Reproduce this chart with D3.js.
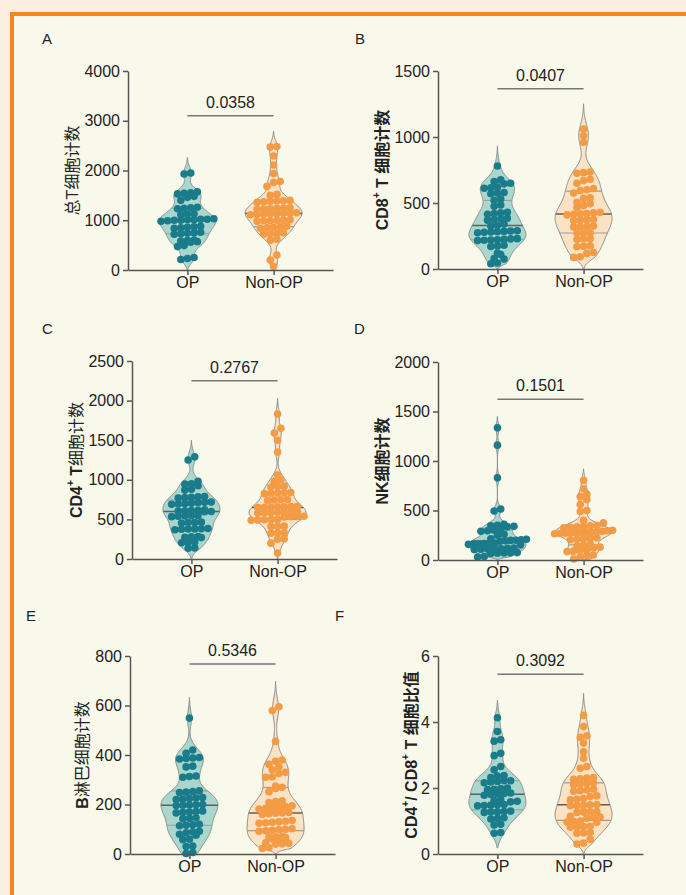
<!DOCTYPE html>
<html><head><meta charset="utf-8">
<script src="https://cdn.jsdelivr.net/npm/d3@7"></script>
<style>body{margin:0;background:#fdeee2;} svg{display:block}</style>
</head><body>
<svg id="chart" width="686" height="895"></svg>
<script>
// ---------- DATA ----------
const groups = ["OP", "Non-OP"];

const totalT_OP = [1950,1930,1570,1550,1540,1530,1480,1460,1400,1260,1250,1240,1230,1130,1120,1110,1030,1020,1020,1010,1010,1000,1000,990,980,880,870,860,850,840,760,750,740,730,720,600,590,580,570,560,490,470,250,230,210];
const totalT_Non = [2480,2470,2290,2110,1940,1780,1760,1680,1520,1500,1400,1390,1390,1380,1370,1360,1250,1240,1240,1230,1230,1220,1150,1140,1140,1130,1130,1120,1120,1110,1010,1000,1000,990,990,980,880,870,860,850,840,750,740,730,720,620,600,300,200,70];

const cd8_OP = [780,675,663,650,645,620,615,612,580,575,570,530,520,485,475,430,425,420,415,385,380,375,370,340,330,325,290,288,285,283,280,278,275,230,228,225,222,220,218,215,180,175,170,120,110,80,75,45,40];
const cd8_Non = [1060,1010,960,735,730,725,680,670,650,610,600,595,575,540,535,505,495,465,480,430,425,420,418,415,410,375,372,370,368,325,322,320,318,275,272,270,230,228,225,175,172,168,125,118,92,88];

const cd4_OP = [1290,1250,980,950,945,925,880,870,790,785,780,775,770,720,715,710,705,700,695,690,620,615,612,610,605,600,598,550,548,545,540,535,465,462,460,455,385,382,380,378,375,370,285,280,275,270,215,210,205,140,135];
const cd4_Non = [1830,1650,1590,1500,1350,1060,1000,980,920,915,910,840,835,832,830,825,750,748,745,740,665,663,660,658,655,652,650,600,595,592,590,588,585,580,540,538,535,530,500,498,495,492,490,415,412,410,330,328,325,255,250,200,75];

const nk_OP = [1335,1160,830,515,495,360,350,345,340,335,310,300,295,290,260,250,215,210,205,200,198,195,190,170,168,165,162,160,158,155,120,118,115,112,110,108,105,75,72,70,68,65,35,30];
const nk_Non = [805,720,665,640,610,560,500,490,400,375,350,345,340,335,330,325,300,295,290,285,282,280,278,275,272,270,268,265,225,220,215,210,205,160,150,140,130,125,100,95,90,85,50,45,30,10];

const b_OP = [549,420,407,390,388,386,384,355,352,315,313,310,255,252,250,248,228,226,224,222,220,200,199,198,197,196,174,172,170,168,166,146,144,142,120,118,116,114,92,90,86,80,76,60,58,32,30,6,2];
const b_Non = [595,580,455,380,375,362,352,340,330,325,312,310,275,270,265,252,215,212,208,195,192,190,188,185,182,168,166,165,163,160,135,132,130,128,126,124,102,100,98,96,94,92,72,70,68,66,64,62,45,43,41,40,25,22];

const ratio_OP = [4.13,3.71,3.46,3.42,3.05,2.98,2.65,2.55,2.38,2.36,2.32,2.22,2.2,2.18,2.16,2.22,2.0,1.98,1.96,1.95,1.85,1.83,1.82,1.8,1.78,1.64,1.62,1.6,1.58,1.5,1.49,1.48,1.47,1.46,1.3,1.29,1.28,1.27,1.26,1.1,1.08,1.06,0.9,0.88,0.65,0.63];
const ratio_Non = [4.2,3.86,3.58,3.54,3.36,3.1,2.9,2.65,2.6,2.3,2.28,2.26,2.32,2.16,2.14,2.12,2.1,1.96,1.94,1.92,1.9,1.76,1.74,1.68,1.66,1.64,1.5,1.49,1.48,1.47,1.46,1.3,1.29,1.28,1.27,1.26,1.14,1.12,1.1,1.08,1.0,0.98,0.97,0.96,0.84,0.83,0.82,0.81,0.65,0.64,0.63,0.45,0.33,0.3];

const panelLetters = ["A","B","C","D","E","F"];
const yTicksA = [0,1000,2000,3000,4000];
const yTicksB = [0,500,1000,1500];
const yTicksC = [0,500,1000,1500,2000,2500];
const yTicksD = [0,500,1000,1500,2000];
const yTicksE = [0,200,400,600,800];
const yTicksF = [0,2,4,6];
const pValues = ["0.0358","0.0407","0.2767","0.1501","0.5346","0.3092"];
const bracketLevels = [3100,1365,2250,1625,768,5.45];

// ---------- STYLE / LAYOUT ----------
const C = {
  tealDot:"#1a7b8b", tealFill:"#a9d7ce",
  orDot:"#f39b45", orFill:"#fbe2c3",
  vStroke:"#8c8c8c", axis:"#555", text:"#222"
};
const latin = "'Liberation Sans', Arial, Helvetica, sans-serif";
const cjk = "'Liberation Sans', 'Noto Sans CJK SC', sans-serif";

const panels = [
  {ax:128, y0:270, y1:71,  lx:42,  ly:44,  tx:72,  data:[totalT_OP,totalT_Non], ticks:yTicksA,
   title:[{t:"总T细胞计数"}]},
  {ax:438, y0:269, y1:71,  lx:355, ly:44,  tx:382, data:[cd8_OP,cd8_Non], ticks:yTicksB, bold:true,
   title:[{t:"CD8"},{t:"+",sup:true},{t:" T 细胞计数"}]},
  {ax:132, y0:559, y1:361, lx:42,  ly:334, tx:76,  data:[cd4_OP,cd4_Non], ticks:yTicksC,
   title:[{t:"CD4",b:true},{t:"+",sup:true,b:true},{t:" T",b:true},{t:"细胞计数"}]},
  {ax:438, y0:560, y1:362, lx:354, ly:334, tx:382, data:[nk_OP,nk_Non], ticks:yTicksD, bold:true,
   title:[{t:"NK细胞计数"}]},
  {ax:130, y0:854, y1:656, lx:26,  ly:621, tx:82,  data:[b_OP,b_Non], ticks:yTicksE,
   title:[{t:"B",b:true},{t:"淋巴细胞计数"}]},
  {ax:438, y0:854, y1:656, lx:335, ly:621, tx:411, data:[ratio_OP,ratio_Non], ticks:yTicksF, bold:true,
   title:[{t:"CD4"},{t:"+",sup:true},{t:"/ CD8"},{t:"+",sup:true},{t:" T 细胞比值"}]}
];

const svg = d3.select("#chart");
svg.append("rect").attr("width",686).attr("height",895).attr("fill","#fdeee2");
svg.append("rect").attr("x",12).attr("y",14).attr("width",700).attr("height",900)
  .attr("fill","#f9f9eb").attr("stroke","#f5871f").attr("stroke-width",4);

function kde(vals){
  const s=[...vals].sort(d3.ascending), n=s.length;
  const sd=d3.deviation(s), iqr=d3.quantile(s,.75)-d3.quantile(s,.25);
  const h=0.75*0.9*Math.min(sd, iqr/1.34)*Math.pow(n,-0.2);
  const dens=v=>d3.sum(s,x=>Math.exp(-0.5*((v-x)/h)**2));
  return {s,h,dens,mn:s[0],mx:s[n-1]};
}

// Prism-like row layout: points whose pixel y are close share a row
function rows(vals, y, cx){
  const rowH=5.2, sp=6.6, maxW=58;
  const pts=vals.map(v=>({v,y:y(v)})).sort((a,b)=>b.y-a.y);
  const out=[]; let cur=[];
  const flush=()=>{
    const n=cur.length; if(!n) return;
    const s=Math.min(sp, n>1?maxW/(n-1):sp);
    cur.forEach((p,j)=>out.push({v:p.v,y:p.y,x:cx+(j-(n-1)/2)*s}));
    cur=[];
  };
  pts.forEach(p=>{
    if(cur.length && cur[0].y-p.y>rowH) flush();
    cur.push(p);
  });
  flush();
  return out;
}

panels.forEach((P,pi)=>{
  const g=svg.append("g");
  const y=d3.scaleLinear().domain([0,d3.max(P.ticks)]).range([P.y0,P.y1]);
  const x=d3.scalePoint().domain(groups).range([P.ax,P.ax+205]).padding(0.69);
  const W=28.5;

  g.append("text").attr("x",P.lx).attr("y",P.ly).text(panelLetters[pi])
    .attr("font-family",latin).attr("font-size",15).attr("fill",C.text);

  groups.forEach((grp,gi)=>{
    const vals=P.data[gi];
    const K=kde(vals);
    const lo=K.mn-2.2*K.h, hi=K.mx+2.6*K.h, N=180;
    const grid=d3.range(N+1).map(i=>lo+(hi-lo)*i/N);
    const dv=grid.map(K.dens);
    const md=d3.max(dv);
    const mapV=v=>(v<K.mn && lo<0)? K.mn-(K.mn-v)*(K.mn-0)/(K.mn-lo) : v;
    const shape=grid.map((v,i)=>({v:mapV(v), w:(i===0||i===N)?0:dv[i]/md}));
    const cx=x(grp);
    const area=d3.area().y(d=>y(d.v)).x0(d=>cx-W*d.w).x1(d=>cx+W*d.w).curve(d3.curveBasis);
    g.append("path").attr("d",area(shape))
      .attr("fill",gi===0?C.tealFill:C.orFill).attr("stroke",C.vStroke).attr("stroke-width",1);
    [0.25,0.5,0.75].forEach(q=>{
      const qv=d3.quantile(K.s,q);
      const w=W*K.dens(qv)/md;
      g.append("line").attr("x1",cx-w).attr("x2",cx+w).attr("y1",y(qv)).attr("y2",y(qv))
        .attr("stroke",q===0.5?"#5f5f5f":"#9d9d9d").attr("stroke-width",q===0.5?1.5:1.1);
    });
  });

  groups.forEach((grp,gi)=>{
    const pts=rows(P.data[gi],y,x(grp));
    g.selectAll(null).data(pts).enter().append("circle")
      .attr("cx",d=>d.x).attr("cy",d=>d.y).attr("r",3.8)
      .attr("fill",gi===0?C.tealDot:C.orDot);
  });

  const ya=g.append("g").attr("transform",`translate(${P.ax},0)`)
    .call(d3.axisLeft(y).tickValues(P.ticks).tickFormat(d3.format("d")).tickSize(5).tickSizeOuter(0).tickPadding(3));
  const xa=g.append("g").attr("transform",`translate(0,${P.y0})`)
    .call(d3.axisBottom(x).tickSize(5).tickSizeOuter(0).tickPadding(2));
  [ya,xa].forEach(a=>{
    a.attr("font-family",latin).attr("font-size",16);
    a.selectAll("path,line").attr("stroke",C.axis).attr("stroke-width",1.5);
    a.selectAll("text").attr("fill",C.text);
  });

  const by=y(bracketLevels[pi]);
  g.append("line").attr("x1",x(groups[0])).attr("x2",x(groups[1])).attr("y1",by).attr("y2",by)
    .attr("stroke","#777").attr("stroke-width",1.5);
  g.append("text").attr("x",(x(groups[0])+x(groups[1]))/2).attr("y",by-8)
    .attr("text-anchor","middle").attr("font-family",latin).attr("font-size",16)
    .attr("fill",C.text).text(pValues[pi]);

  const ym=(P.y0+P.y1)/2;
  const t=g.append("text").attr("transform",`translate(${P.tx},${ym}) rotate(-90)`)
    .attr("text-anchor","middle").attr("dominant-baseline","central")
    .attr("font-family",cjk).attr("font-size",16).attr("fill",C.text)
    .attr("font-weight",P.bold?"bold":"normal");
  let inSup=false;
  P.title.forEach(seg=>{
    const ts=t.append("tspan").text(seg.t);
    if(seg.b) ts.attr("font-weight","bold");
    if(seg.sup){ ts.attr("dy",-6).attr("font-size",10); inSup=true; }
    else if(inSup){ ts.attr("dy",6); inSup=false; }
  });
});
</script>
</body></html>
